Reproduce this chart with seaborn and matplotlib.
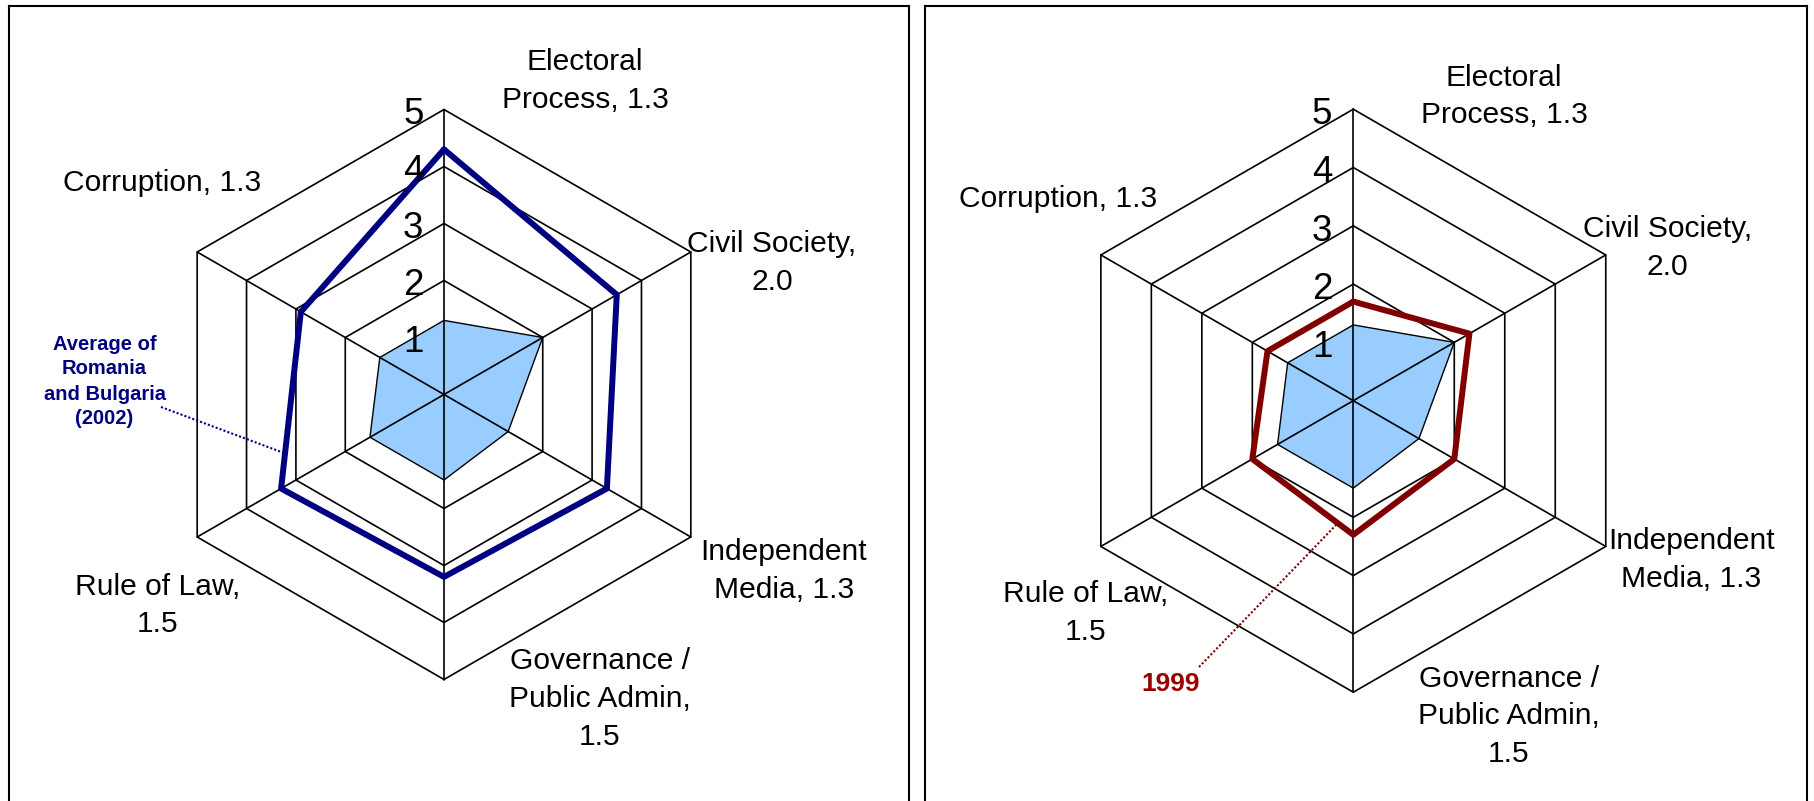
import numpy as np
import matplotlib
matplotlib.use("Agg")
import matplotlib.pyplot as plt
import seaborn as sns

# Data
categories = ["Electoral\nProcess", "Civil Society", "Independent\nMedia",
              "Governance /\nPublic Admin", "Rule of Law", "Corruption"]
label_sep = [", ", ",\n", ", ", ",\n", ",\n", ", "]
current = [1.3, 2.0, 1.3, 1.5, 1.5, 1.3]
avg_rom_bul_2002 = [4.3, 3.5, 3.3, 3.2, 3.3, 2.9]
year_1999 = [1.7, 2.3, 2.0, 2.3, 2.0, 1.7]
ring_levels = [1, 2, 3, 4, 5]

W, H = 1815, 801
sns.set_style("white")
plt.rcParams["font.family"] = ["Liberation Sans", "DejaVu Sans"]
plt.rcParams["text.color"] = "black"

fig = plt.figure(figsize=(W / 100, H / 100), dpi=100)

# angles: first axis at top, going clockwise
angles = np.pi / 2 - np.arange(len(categories)) * 2 * np.pi / len(categories)


def to_xy(vals):
    v = np.asarray(vals, dtype=float)
    x = v * np.cos(angles)
    y = v * np.sin(angles)
    return np.append(x, x[0]), np.append(y, y[0])


def make_panel(x0, x1, y0, cx, cy, s):
    ax = fig.add_axes([x0 / W, 0, (x1 - x0) / W, (H - y0) / H])
    ax.set_xlim((x0 - cx) / s, (x1 - cx) / s)
    ax.set_ylim((cy - H) / s, (cy - y0) / s)
    ax.set_xticks([])
    ax.set_yticks([])
    for side in ["left", "right", "top"]:
        ax.spines[side].set_color("black")
        ax.spines[side].set_linewidth(1.5)
    ax.spines["bottom"].set_visible(False)
    px = lambda p: ((p[0] - cx) / s, (cy - p[1]) / s)
    return ax, px


def draw_radar(ax, series, color):
    for lv in ring_levels:
        rx, ry = to_xy([lv] * len(categories))
        ax.plot(rx, ry, color="black", lw=1.2, zorder=1)
    fx, fy = to_xy(current)
    ax.fill(fx, fy, facecolor="#99CCFF", edgecolor="black", lw=1.0, zorder=2)
    for a in angles:
        ax.plot([0, 5 * np.cos(a)], [0, 5 * np.sin(a)], color="black", lw=1.2, zorder=3)
    sx, sy = to_xy(series)
    sns.lineplot(x=sx, y=sy, sort=False, estimator=None, color=color, lw=4.3,
                 ax=ax, zorder=4)
    for lv in ring_levels:
        ax.text(-0.36, lv - 0.09, str(lv), ha="right", va="center",
                fontsize=26.5, zorder=5)


def draw_labels(ax, px, positions):
    for name, sep, val, pos in zip(categories, label_sep, current, positions):
        x, y = px(pos)
        ax.text(x, y, f"{name}{sep}{val:.1f}", ha="center", va="center",
                multialignment="center", fontsize=21.6, linespacing=1.45)


# Left panel
axL, pxL = make_panel(9.3, 909.3, 5.7, 444, 394.5, 57.0)
draw_radar(axL, avg_rom_bul_2002, "#000080")
draw_labels(axL, pxL, [(585, 80.6), (772, 263), (784, 571), (600, 699),
                       (158, 605.5), (162.5, 183)])
tx, ty = pxL((104.5, 381.5))
axL.text(tx, ty, "Average of\nRomania\nand Bulgaria\n(2002)", ha="center", va="center",
         multialignment="center", fontsize=14.5, fontweight="bold", color="#000080",
         linespacing=1.4)
(ax0, ay0), (ax1, ay1) = pxL((161, 407)), pxL((284, 453))
axL.plot([ax0, ax1], [ay0, ay1], ls=(0, (1, 1)), color="#000080", lw=1.5, zorder=6)

# Right panel
axR, pxR = make_panel(925, 1807, 6, 1353.3, 400.7, 58.3)
draw_radar(axR, year_1999, "#800000")
draw_labels(axR, pxR, [(1504, 96.5), (1667.5, 248), (1691.5, 560), (1509, 716.5),
                       (1085.5, 613), (1058.5, 199)])
tx, ty = pxR((1171, 684.4))
axR.text(tx, ty, "1999", ha="center", va="center", fontsize=19, fontweight="bold",
         color="#990000")
(bx0, by0), (bx1, by1) = pxR((1199, 667)), pxR((1337, 524))
axR.plot([bx0, bx1], [by0, by1], ls=(0, (1, 1)), color="#800000", lw=1.5, zorder=6)

fig.savefig("out.png", dpi=100)
